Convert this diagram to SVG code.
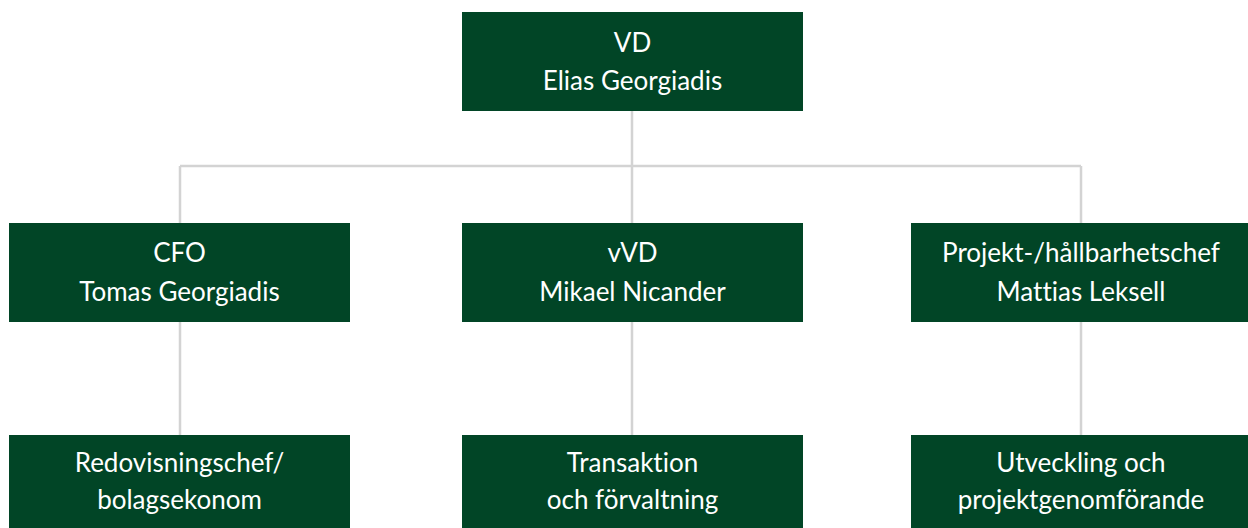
<svg xmlns="http://www.w3.org/2000/svg" width="1248" height="528" viewBox="0 0 1248 528">
<style>
.box{fill:#014526}
.t{font-family:Lato,"Open Sans","Liberation Sans",sans-serif;font-size:26px;fill:#ffffff;text-anchor:middle;font-variant-ligatures:none}
.c{stroke:#d3d3d3;stroke-width:2.5;fill:none}
</style>
<rect width="1248" height="528" fill="#ffffff"/>
<g id="connectors">
<path class="c" d="M632 111V166M180 166H1081M180 166V223M632 166V223M1081 166V223M180 322V435M632 322V435M1081 322V435"/>
</g>
<g id="vd"><rect class="box" x="462" y="12" width="341" height="99"/><text class="t" x="632.5" y="52">VD</text><text class="t" x="632.5" y="90">Elias Georgiadis</text></g>
<g id="cfo"><rect class="box" x="9" y="223" width="341" height="99"/><text class="t" x="179.5" y="262">CFO</text><text class="t" x="179.5" y="301">Tomas Georgiadis</text></g>
<g id="vvd"><rect class="box" x="462" y="223" width="341" height="99"/><text class="t" x="632.5" y="262">vVD</text><text class="t" x="632.5" y="301">Mikael Nicander</text></g>
<g id="projekt"><rect class="box" x="911" y="223" width="341" height="99"/><text class="t" x="1081" y="262">Projekt-/hållbarhetschef</text><text class="t" x="1081" y="301">Mattias Leksell</text></g>
<g id="redovisning"><rect class="box" x="9" y="435" width="341" height="99"/><text class="t" x="179.5" y="472">Redovisningschef/</text><text class="t" x="179.5" y="509">bolagsekonom</text></g>
<g id="transaktion"><rect class="box" x="462" y="435" width="341" height="99"/><text class="t" x="632.5" y="472">Transaktion</text><text class="t" x="632.5" y="509">och förvaltning</text></g>
<g id="utveckling"><rect class="box" x="911" y="435" width="341" height="99"/><text class="t" x="1081" y="472">Utveckling och</text><text class="t" x="1081" y="509">projektgenomförande</text></g>
</svg>
